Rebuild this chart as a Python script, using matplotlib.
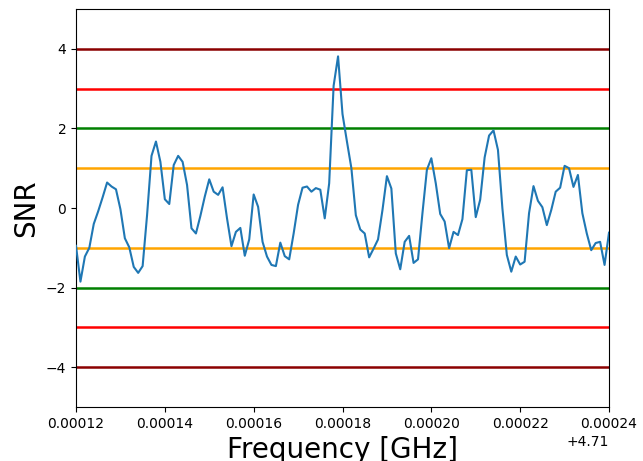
import numpy as np
import matplotlib
matplotlib.use("Agg")
import matplotlib.pyplot as plt

# Frequency grid (GHz): 121 samples, 1 kHz spacing
freq_start = 4.71012
freq_stop = 4.71024
n_points = 121
frequency = np.linspace(freq_start, freq_stop, n_points)

# Signal-to-noise ratio per frequency bin
snr = [
    -0.95, -1.85, -1.22, -1.00, -0.40, -0.08, 0.27, 0.64, 0.54, 0.47,
    -0.03, -0.76, -0.99, -1.48, -1.63, -1.46, -0.18, 1.31, 1.67, 1.16,
    0.22, 0.10, 1.08, 1.31, 1.16, 0.58, -0.51, -0.64, -0.20, 0.29,
    0.72, 0.41, 0.33, 0.52, -0.26, -0.96, -0.60, -0.50, -1.20, -0.79,
    0.34, 0.03, -0.85, -1.22, -1.43, -1.46, -0.87, -1.21, -1.29, -0.64,
    0.08, 0.51, 0.54, 0.41, 0.50, 0.46, -0.26, 0.62, 3.07, 3.81,
    2.36, 1.67, 1.00, -0.18, -0.54, -0.64, -1.24, -1.02, -0.79, -0.05,
    0.80, 0.49, -1.14, -1.54, -0.85, -0.70, -1.38, -1.29, -0.13, 0.96,
    1.25, 0.62, -0.15, -0.34, -1.01, -0.60, -0.68, -0.28, 0.95, 0.96,
    -0.23, 0.21, 1.27, 1.82, 1.95, 1.46, -0.01, -1.18, -1.60, -1.22,
    -1.42, -1.35, -0.13, 0.55, 0.18, 0.02, -0.43, -0.05, 0.41, 0.51,
    1.06, 1.00, 0.53, 0.83, -0.13, -0.64, -1.06, -0.88, -0.85, -1.43,
    -0.62,
]

# Sigma threshold levels and their colours
sigma_levels = [1, 2, 3, 4]
sigma_colors = ["orange", "green", "red", "darkred"]

fig = plt.figure(figsize=(6.43, 4.61), dpi=100)
ax = fig.add_subplot(111)
fig.subplots_adjust(left=76 / 643, right=609 / 643,
                    top=1 - 9 / 461, bottom=1 - 407 / 461)

ax.plot(frequency, snr, color="#1f77b4", linewidth=1.5, zorder=3)

for level, color in zip(sigma_levels, sigma_colors):
    ax.axhline(level, color=color, linewidth=1.8, zorder=2)
    ax.axhline(-level, color=color, linewidth=1.8, zorder=2)

ax.set_xlim(freq_start, freq_stop)
ax.set_ylim(-5, 5)
ax.set_xlabel("Frequency [GHz]", fontsize=20)
ax.set_ylabel("SNR", fontsize=20)

fig.savefig("out.png", dpi=100)
